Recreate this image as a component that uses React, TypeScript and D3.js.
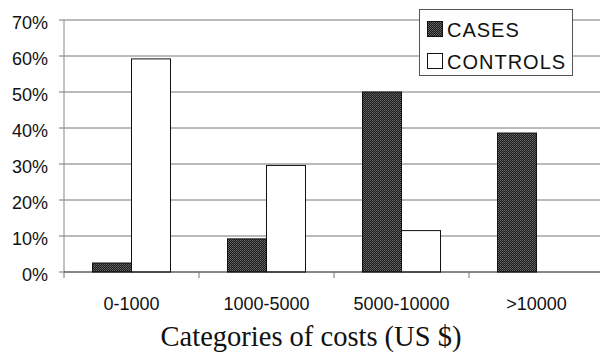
import React from "react";
import * as d3 from "d3";

const categories = ["0-1000", "1000-5000", "5000-10000", ">10000"];
const cases = [2.5, 9.2, 50, 38.6];
const controls = [59.2, 29.6, 11.5, 0];
const yTicks = [0, 10, 20, 30, 40, 50, 60, 70];
const seriesNames = ["CASES", "CONTROLS"];

export default function App() {
  const W = 600, H = 360;
  const left = 64, right = 604, top = 20, bottom = 272;
  const x = d3.scaleBand<string>().domain(categories).range([left, right]).paddingInner(0).paddingOuter(0);
  const y = d3.scaleLinear().domain([0, 70]).range([bottom, top]);
  const barW = 39;
  const sans = "'Liberation Sans', Arial, sans-serif";
  return (
    <svg width={W} height={H} style={{ position: "absolute", left: 0, top: 0, background: "#fff" }}>
      <defs>
        <pattern id="dark" width="2" height="2" patternUnits="userSpaceOnUse">
          <rect width="2" height="2" fill="#1a1a1a" />
          <rect width="1" height="1" fill="#6a6a6a" />
          <rect x="1" y="1" width="1" height="1" fill="#555" />
        </pattern>
      </defs>
      {yTicks.map((t) => (
        <g key={t}>
          {t > 0 && <line x1={left} x2={right} y1={y(t)} y2={y(t)} stroke="#777" strokeWidth={1} />}
          <line x1={left - 5} x2={left} y1={y(t)} y2={y(t)} stroke="#777" />
          <text x={48} y={y(t) + 9} textAnchor="end" fontFamily={sans} fontSize={18} fill="#111">{t}%</text>
        </g>
      ))}
      <line x1={left} x2={left} y1={top} y2={bottom} stroke="#888" />
      {categories.map((c, i) => {
        const cx = x(c)! + x.bandwidth() / 2;
        return (
          <g key={c}>
            <rect x={cx - barW} y={y(cases[i])} width={barW} height={bottom - y(cases[i])} fill="url(#dark)" stroke="#111" strokeWidth={1} />
            {controls[i] > 0 && (
              <rect x={cx} y={y(controls[i])} width={barW} height={bottom - y(controls[i])} fill="#fff" stroke="#111" strokeWidth={1} />
            )}
            <text x={cx} y={310} textAnchor="middle" fontFamily={sans} fontSize={18} fill="#111">{c}</text>
          </g>
        );
      })}
      <line x1={left} x2={right} y1={bottom} y2={bottom} stroke="#111" />
      {categories.map((c, i) => (
        <line key={"t" + i} x1={x(c)!} x2={x(c)!} y1={bottom} y2={bottom + 6} stroke="#777" />
      ))}
      <g>
        <rect x={419.5} y={9.5} width={153} height={66} fill="#fff" stroke="#555" />
        <rect x={427.5} y={21.5} width={15} height={15} fill="url(#dark)" stroke="#111" />
        <rect x={427.5} y={53.5} width={15} height={15} fill="#fff" stroke="#111" />
        <text x={447} y={37} fontFamily={sans} fontSize={20} letterSpacing={1} fill="#111">{seriesNames[0]}</text>
        <text x={447} y={69} fontFamily={sans} fontSize={20} letterSpacing={1} fill="#111">{seriesNames[1]}</text>
      </g>
      <text x={311} y={346} textAnchor="middle" fontFamily="'Liberation Serif', 'Times New Roman', serif" fontSize={28.5} fill="#111">Categories of costs (US $)</text>
    </svg>
  );
}
